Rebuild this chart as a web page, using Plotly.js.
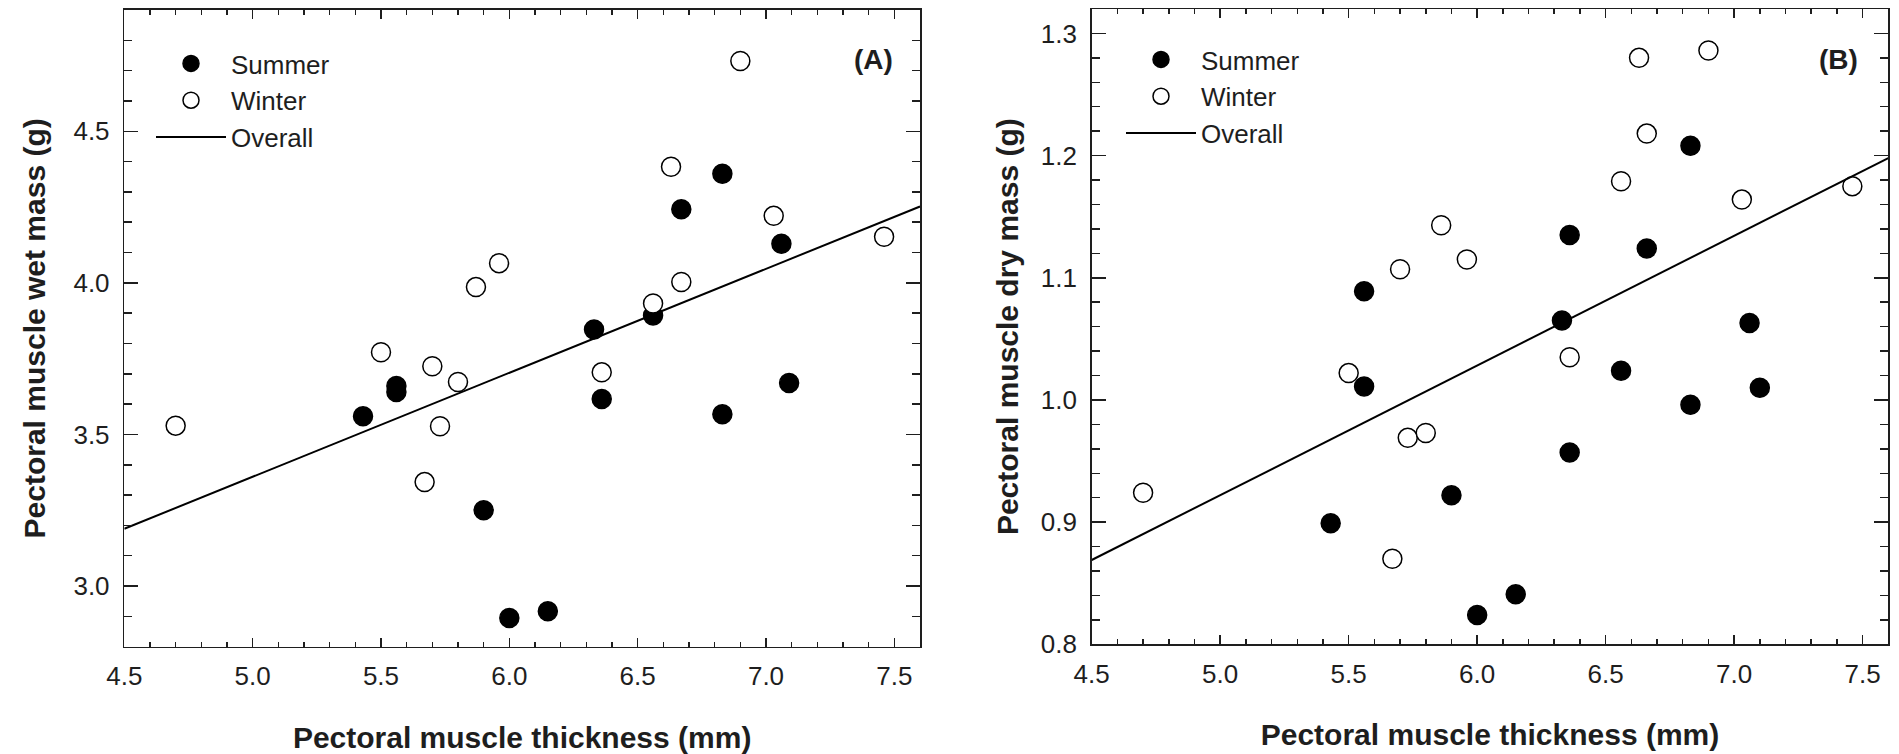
<!DOCTYPE html>
<html>
<head>
<meta charset="utf-8">
<script src="https://cdn.plot.ly/plotly-3.0.1.min.js"></script>
<style>html,body{margin:0;padding:0;background:#fff;}#chart{width:1899px;height:754px;}</style>
</head>
<body>
<div id="chart"></div>
<script>
// Panel A: wet mass
const thicknessSummerA = [5.43, 5.56, 5.56, 5.90, 6.00, 6.15, 6.33, 6.36, 6.56, 6.67, 6.83, 6.83, 7.06, 7.09];
const wetSummer        = [3.56, 3.66, 3.64, 3.25, 2.895, 2.917, 3.846, 3.617, 3.892, 4.243, 4.360, 3.567, 4.129, 3.670];
const thicknessWinterA = [4.70, 5.50, 5.67, 5.70, 5.73, 5.80, 5.87, 5.96, 6.36, 6.56, 6.63, 6.67, 6.90, 7.03, 7.46];
const wetWinter        = [3.529, 3.771, 3.343, 3.725, 3.527, 3.673, 3.986, 4.065, 3.705, 3.932, 4.383, 4.003, 4.732, 4.221, 4.152];
// Panel B: dry mass
const thicknessSummerB = [5.43, 5.56, 5.56, 5.90, 6.00, 6.15, 6.33, 6.36, 6.36, 6.56, 6.66, 6.83, 6.83, 7.06, 7.10];
const drySummer        = [0.899, 1.089, 1.011, 0.922, 0.824, 0.841, 1.065, 1.135, 0.957, 1.024, 1.124, 1.208, 0.996, 1.063, 1.010];
const thicknessWinterB = [4.70, 5.50, 5.67, 5.70, 5.73, 5.80, 5.86, 5.96, 6.36, 6.56, 6.63, 6.66, 6.90, 7.03, 7.46];
const dryWinter        = [0.924, 1.022, 0.870, 1.107, 0.969, 0.973, 1.143, 1.115, 1.035, 1.179, 1.280, 1.218, 1.286, 1.164, 1.175];
// Overall regression lines (end points)
const fitThickness = [4.5, 7.6];
const fitWet       = [3.189, 4.252];
const fitDry       = [0.869, 1.198];

const seriesNames = ['Summer', 'Winter', 'Overall'];
const panelLabels = ['(A)', '(B)'];
const xTitle = 'Pectoral muscle thickness (mm)';
const yTitleA = 'Pectoral muscle wet mass (g)';
const yTitleB = 'Pectoral muscle dry mass (g)';

const FONT = '"Liberation Sans", Arial, Helvetica, sans-serif';
const INK = '#1e1e1e';

const summerMarker = {symbol: 'circle', size: 19, color: '#000', line: {color: '#000', width: 1.5}};
const winterMarker = {symbol: 'circle', size: 19, color: '#fff', line: {color: '#000', width: 1.5}};

const traces = [
  {x: thicknessSummerA, y: wetSummer, mode: 'markers', name: seriesNames[0], marker: summerMarker, xaxis: 'x', yaxis: 'y', legend: 'legend'},
  {x: thicknessWinterA, y: wetWinter, mode: 'markers', name: seriesNames[1], marker: winterMarker, xaxis: 'x', yaxis: 'y', legend: 'legend'},
  {x: fitThickness, y: fitWet, mode: 'lines', name: seriesNames[2], line: {color: '#000', width: 2}, xaxis: 'x', yaxis: 'y', legend: 'legend'},
  {x: thicknessSummerB, y: drySummer, mode: 'markers', name: seriesNames[0], marker: summerMarker, xaxis: 'x2', yaxis: 'y2', legend: 'legend2'},
  {x: thicknessWinterB, y: dryWinter, mode: 'markers', name: seriesNames[1], marker: winterMarker, xaxis: 'x2', yaxis: 'y2', legend: 'legend2'},
  {x: fitThickness, y: fitDry, mode: 'lines', name: seriesNames[2], line: {color: '#000', width: 2}, xaxis: 'x2', yaxis: 'y2', legend: 'legend2'}
];

function xAxis(domain, anchor) {
  return {
    domain: domain, anchor: anchor, range: [4.5, 7.6], tick0: 4.5, dtick: 0.5, tickformat: '.1f',
    ticks: 'inside', ticklen: 9, tickwidth: 1.5, tickcolor: INK,
    minor: {dtick: 0.1, ticklen: 5, tickwidth: 1.5, tickcolor: INK, ticks: 'inside', showgrid: false},
    showline: true, linecolor: INK, linewidth: 1.5, mirror: 'ticks',
    showgrid: false, zeroline: false,
    tickfont: {family: FONT, size: 26, color: INK}, ticklabelstandoff: 6,
    title: {text: xTitle, font: {family: FONT, size: 30, color: INK, weight: 'bold'}, standoff: 36}
  };
}
function yAxis(domain, anchor, range, tick0, dtick, minorDtick, title, standoff) {
  return {
    domain: domain, anchor: anchor, range: range, tick0: tick0, dtick: dtick, tickformat: '.1f',
    ticks: 'inside', ticklen: 14, tickwidth: 1.5, tickcolor: INK,
    minor: {dtick: minorDtick, ticklen: 8, tickwidth: 1.5, tickcolor: INK, ticks: 'inside', showgrid: false},
    showline: true, linecolor: INK, linewidth: 1.5, mirror: 'ticks',
    showgrid: false, zeroline: false,
    tickfont: {family: FONT, size: 26, color: INK}, ticklabelstandoff: 8,
    title: {text: title, font: {family: FONT, size: 30, color: INK, weight: 'bold'}, standoff: standoff}
  };
}

const legendStyle = {
  font: {family: FONT, size: 26, color: INK}, bgcolor: 'rgba(0,0,0,0)', borderwidth: 0,
  xanchor: 'left', yanchor: 'top', traceorder: 'normal', itemwidth: 70, tracegroupgap: 0
};

const layout = {
  width: 1899, height: 754,
  margin: {l: 0, r: 0, t: 0, b: 0},
  paper_bgcolor: '#fff', plot_bgcolor: '#fff',
  font: {family: FONT, color: INK},
  showlegend: true,
  xaxis: xAxis([0.06546, 0.48447], 'y'),
  yaxis: yAxis([0.1423, 0.98674], 'x', [2.8, 4.9], 3.0, 0.5, 0.1, yTitleA, 19),
  xaxis2: xAxis([0.57488, 0.99437], 'y2'),
  yaxis2: yAxis([0.14549, 0.98806], 'x2', [0.8, 1.32], 0.8, 0.1, 0.02, yTitleB, 13),
  legend: Object.assign({x: 151 / 1899, y: (754 - 40) / 754}, legendStyle),
  legend2: Object.assign({x: 1121 / 1899, y: (754 - 36) / 754}, legendStyle),
  annotations: [
    {text: panelLabels[0], xref: 'x domain', yref: 'y domain', x: 0.942, y: 0.9215, xanchor: 'center', yanchor: 'middle', showarrow: false, font: {family: FONT, size: 28, color: INK, weight: 'bold'}},
    {text: panelLabels[1], xref: 'x2 domain', yref: 'y2 domain', x: 0.9372, y: 0.9213, xanchor: 'center', yanchor: 'middle', showarrow: false, font: {family: FONT, size: 28, color: INK, weight: 'bold'}}
  ]
};

Plotly.newPlot('chart', traces, layout, {displayModeBar: false, staticPlot: true});
</script>
</body>
</html>
